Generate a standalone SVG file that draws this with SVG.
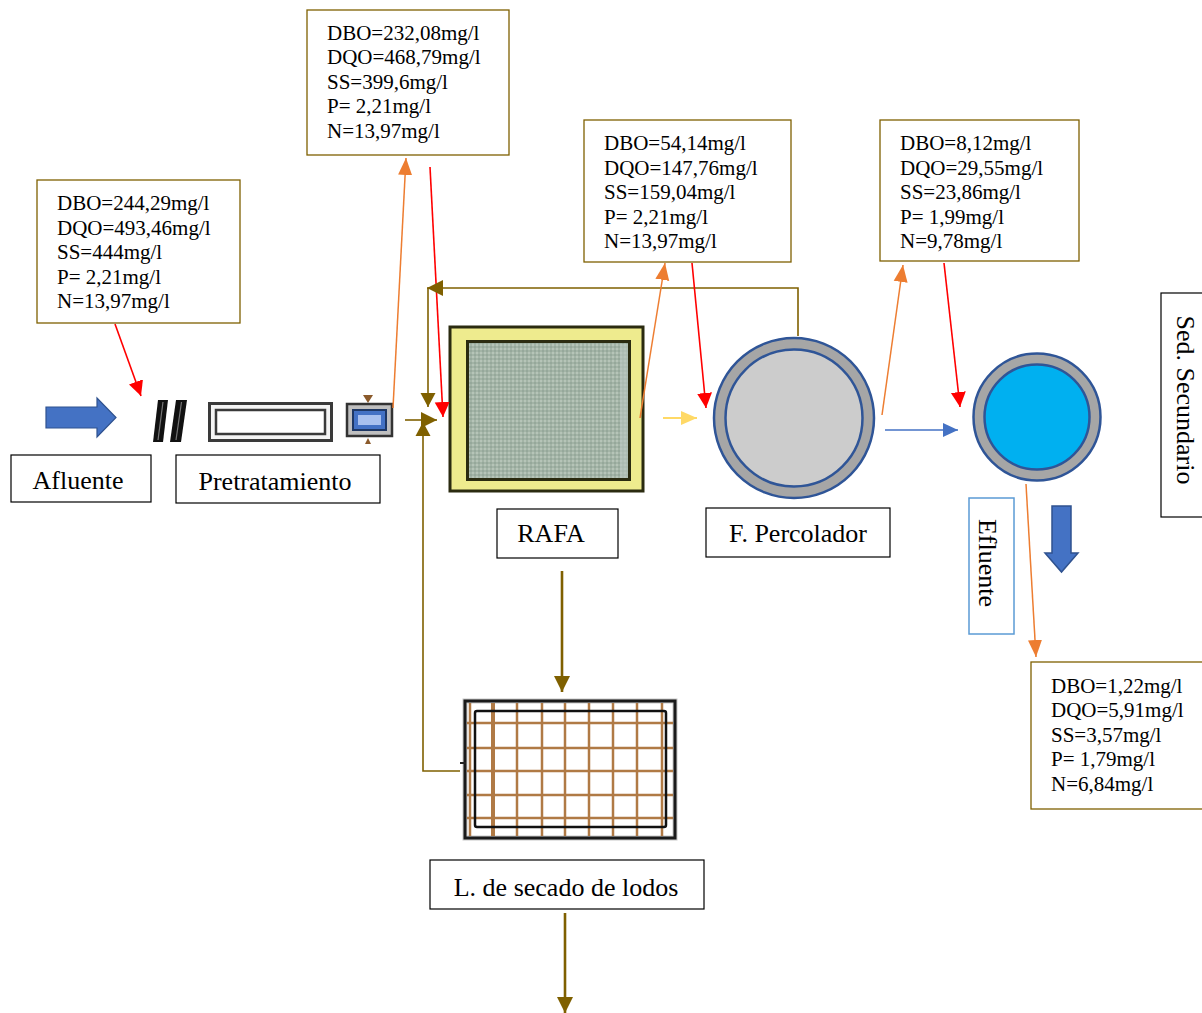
<svg xmlns="http://www.w3.org/2000/svg" width="1202" height="1013" viewBox="0 0 1202 1013">
  <style>
    .data { font-family: "Liberation Serif", "Times New Roman", serif; font-size: 21px; fill: #000; }
    .label { font-family: "Liberation Serif", "Times New Roman", serif; font-size: 26px; fill: #000; text-anchor: middle; }
    .dbox { fill: #fff; stroke: #7f6000; stroke-width: 1.3; }
    .lbox { fill: #fff; stroke: #000; stroke-width: 1.2; }
    .red { stroke: #ff0000; stroke-width: 1.6; fill: none; }
    .orange { stroke: #ed7d31; stroke-width: 1.5; fill: none; }
    .olive { stroke: #7f6000; stroke-width: 1.6; fill: none; }
    .olive-thick { stroke: #7f6000; stroke-width: 2.6; fill: none; }
    .blue { stroke: #4472c4; stroke-width: 1.5; fill: none; }
    .yellow { stroke: #ffd966; stroke-width: 2; fill: none; }
    .ring { fill: #a6a6a6; stroke: #2f5597; stroke-width: 2.5; }
    .core { stroke: #2f5597; stroke-width: 2.5; }
    .grid line { stroke: #b07a45; stroke-width: 2.5; }
  </style>
  <defs>
    <marker id="hRed" markerUnits="userSpaceOnUse" markerWidth="16" markerHeight="16" refX="15" refY="8" orient="auto">
      <path d="M0,0.5 L15,8 L0,15.5 z" fill="#ff0000"/>
    </marker>
    <marker id="hOrange" markerUnits="userSpaceOnUse" markerWidth="18" markerHeight="16" refX="17" refY="8" orient="auto">
      <path d="M0,1 L17,8 L0,15 z" fill="#ed7d31"/>
    </marker>
    <marker id="hOlive" markerUnits="userSpaceOnUse" markerWidth="17" markerHeight="17" refX="16" refY="8.5" orient="auto">
      <path d="M0,0.5 L16,8.5 L0,16.5 z" fill="#7f6000"/>
    </marker>
    <marker id="hOliveS" markerUnits="userSpaceOnUse" markerWidth="15" markerHeight="16" refX="14" refY="8" orient="auto">
      <path d="M0,0.5 L14,8 L0,15.5 z" fill="#7f6000"/>
    </marker>
    <marker id="hBlue" markerUnits="userSpaceOnUse" markerWidth="16" markerHeight="16" refX="15" refY="8" orient="auto">
      <path d="M0,1 L15,8 L0,15 z" fill="#4472c4"/>
    </marker>
    <marker id="hYellow" markerUnits="userSpaceOnUse" markerWidth="17" markerHeight="16" refX="16" refY="8" orient="auto">
      <path d="M0,1 L16,8 L0,15 z" fill="#ffd966"/>
    </marker>
    <pattern id="mesh" width="4" height="4" patternUnits="userSpaceOnUse">
      <rect width="4" height="4" fill="#a3b4a6"/>
      <rect width="2" height="2" fill="#b6c4b8"/>
      <rect x="2" y="2" width="2" height="2" fill="#96a89b"/>
    </pattern>
  </defs>

  <rect width="1202" height="1013" fill="#fff"/>

  <!-- Water quality boxes -->
  <g id="q-afluente">
    <rect class="dbox" x="37" y="180" width="203" height="143"/>
    <text class="data" x="57" y="210">DBO=244,29mg/l</text>
    <text class="data" x="57" y="235">DQO=493,46mg/l</text>
    <text class="data" x="57" y="259">SS=444mg/l</text>
    <text class="data" x="57" y="284">P= 2,21mg/l</text>
    <text class="data" x="57" y="308">N=13,97mg/l</text>
  </g>
  <g id="q-pretratamiento">
    <rect class="dbox" x="307" y="10" width="202" height="145"/>
    <text class="data" x="327" y="40">DBO=232,08mg/l</text>
    <text class="data" x="327" y="64">DQO=468,79mg/l</text>
    <text class="data" x="327" y="89">SS=399,6mg/l</text>
    <text class="data" x="327" y="113">P= 2,21mg/l</text>
    <text class="data" x="327" y="138">N=13,97mg/l</text>
  </g>
  <g id="q-rafa">
    <rect class="dbox" x="584" y="120" width="207" height="142"/>
    <text class="data" x="604" y="150">DBO=54,14mg/l</text>
    <text class="data" x="604" y="175">DQO=147,76mg/l</text>
    <text class="data" x="604" y="199">SS=159,04mg/l</text>
    <text class="data" x="604" y="224">P= 2,21mg/l</text>
    <text class="data" x="604" y="248">N=13,97mg/l</text>
  </g>
  <g id="q-percolador">
    <rect class="dbox" x="880" y="120" width="199" height="141"/>
    <text class="data" x="900" y="150">DBO=8,12mg/l</text>
    <text class="data" x="900" y="175">DQO=29,55mg/l</text>
    <text class="data" x="900" y="199">SS=23,86mg/l</text>
    <text class="data" x="900" y="224">P= 1,99mg/l</text>
    <text class="data" x="900" y="248">N=9,78mg/l</text>
  </g>
  <g id="q-efluente">
    <rect class="dbox" x="1031" y="662" width="185" height="147"/>
    <text class="data" x="1051" y="693">DBO=1,22mg/l</text>
    <text class="data" x="1051" y="717">DQO=5,91mg/l</text>
    <text class="data" x="1051" y="742">SS=3,57mg/l</text>
    <text class="data" x="1051" y="766">P= 1,79mg/l</text>
    <text class="data" x="1051" y="791">N=6,84mg/l</text>
  </g>

  <!-- Influent arrow -->
  <g id="afluente-arrow">
    <path d="M46,407 L97,407 L97,398 L116,417.5 L97,437 L97,428 L46,428 z" fill="#4472c4" stroke="#2f528f" stroke-width="1.2"/>
  </g>

  <!-- Pretreatment: screen bars, grit channel, small unit -->
  <g id="rejas">
    <polygon points="158,400 168,400 163,442 153,442" fill="#111"/>
    <line x1="163" y1="402" x2="158" y2="440" stroke="#777" stroke-width="1.2"/>
    <polygon points="176,400 187,400 181,442 170,442" fill="#111"/>
    <line x1="181.5" y1="402" x2="176" y2="440" stroke="#777" stroke-width="1.2"/>
  </g>
  <g id="desarenador">
    <rect x="209.5" y="403.5" width="122" height="37" fill="#f4f4f4" stroke="#3a3a3a" stroke-width="3"/>
    <rect x="216" y="410" width="109" height="24" fill="#fff" stroke="#3a3a3a" stroke-width="2.5"/>
  </g>
  <g id="unidad-medicion">
    <polygon points="363,395 373,395 368,403" fill="#8b5a2b"/>
    <polygon points="365,444 371,444 368,438" fill="#8b5a2b"/>
    <rect x="347" y="404" width="45" height="32" fill="#bfbfbf" stroke="#333" stroke-width="2.5"/>
    <rect x="353" y="410" width="33" height="20" fill="#4472c4" stroke="#1f3864" stroke-width="2"/>
    <rect x="358" y="415" width="23" height="10" fill="#a9c1ee"/>
  </g>

  <!-- RAFA reactor -->
  <g id="rafa">
    <rect x="450" y="327" width="193" height="164" fill="#eeeb8e" stroke="#2b2b10" stroke-width="3"/>
    <rect x="467.5" y="341.5" width="162" height="138" fill="url(#mesh)" stroke="#2b2b10" stroke-width="3"/>
    <rect x="620" y="344" width="8" height="134" fill="#b9c6bf" opacity="0.6"/>
  </g>

  <!-- Trickling filter -->
  <g id="percolador">
    <circle class="ring" cx="794" cy="418" r="80"/>
    <circle class="core" cx="794" cy="418" r="68.5" fill="#cccccc"/>
  </g>

  <!-- Secondary settler -->
  <g id="sedimentador">
    <circle class="ring" cx="1037" cy="417" r="63.5"/>
    <circle class="core" cx="1037" cy="417" r="52.5" fill="#00b0f0"/>
  </g>

  <!-- Effluent arrow -->
  <g id="efluente-arrow">
    <path d="M1052,506 L1071,506 L1071,553 L1078,553 L1061.5,572 L1045,553 L1052,553 z" fill="#4472c4" stroke="#2f528f" stroke-width="1.5"/>
  </g>

  <!-- Sludge drying bed -->
  <g id="lecho-secado">
    <rect x="465" y="701" width="210" height="137" fill="#fff" stroke="#c8c8c8" stroke-width="5"/>
    <g class="grid">
      <line x1="470" y1="703" x2="470" y2="836"/>
      <line x1="493" y1="703" x2="493" y2="836" style="stroke-width:4"/>
      <line x1="517" y1="703" x2="517" y2="836"/>
      <line x1="542" y1="703" x2="542" y2="836"/>
      <line x1="565" y1="703" x2="565" y2="836"/>
      <line x1="589" y1="703" x2="589" y2="836"/>
      <line x1="613" y1="703" x2="613" y2="836"/>
      <line x1="637" y1="703" x2="637" y2="836"/>
      <line x1="662" y1="703" x2="662" y2="836"/>
      <line x1="467" y1="723" x2="673" y2="723"/>
      <line x1="467" y1="748" x2="673" y2="748"/>
      <line x1="467" y1="771" x2="673" y2="771"/>
      <line x1="467" y1="795" x2="673" y2="795"/>
      <line x1="467" y1="818" x2="673" y2="818"/>
    </g>
    <rect x="465" y="701" width="210" height="137" fill="none" stroke="#1a1a1a" stroke-width="3"/>
    <rect x="475" y="711" width="191" height="116" rx="2" fill="none" stroke="#111" stroke-width="2.5"/>
    <line x1="460" y1="763" x2="466" y2="763" stroke="#222" stroke-width="2"/>
  </g>

  <!-- Connectors -->
  <g id="connectors">
    <line class="red" x1="115" y1="324" x2="141" y2="396" marker-end="url(#hRed)"/>
    <line class="orange" x1="393" y1="408" x2="406" y2="158" marker-end="url(#hOrange)"/>
    <line class="red" x1="430" y1="167" x2="443" y2="417" marker-end="url(#hRed)"/>
    <line class="olive" x1="405" y1="420" x2="437" y2="420" marker-end="url(#hOlive)"/>
    <polyline class="olive" points="798,336 798,288 427,288" marker-end="url(#hOlive)"/>
    <line class="olive" x1="428" y1="288" x2="428" y2="407" marker-end="url(#hOliveS)"/>
    <polyline class="olive" points="460,771 423,771 423,422" marker-end="url(#hOliveS)"/>
    <line class="orange" x1="640" y1="418" x2="665" y2="263" marker-end="url(#hOrange)"/>
    <line class="yellow" x1="663" y1="418" x2="697" y2="418" marker-end="url(#hYellow)"/>
    <line class="red" x1="692" y1="263" x2="706" y2="408" marker-end="url(#hRed)"/>
    <line class="orange" x1="882" y1="415" x2="903" y2="265" marker-end="url(#hOrange)"/>
    <line class="blue" x1="885" y1="430" x2="958" y2="430" marker-end="url(#hBlue)"/>
    <line class="red" x1="944" y1="263" x2="960" y2="407" marker-end="url(#hRed)"/>
    <line class="orange" x1="1026" y1="484" x2="1036" y2="657" marker-end="url(#hOrange)"/>
    <line class="olive-thick" x1="562" y1="571" x2="562" y2="692" marker-end="url(#hOlive)"/>
    <line class="olive-thick" x1="565" y1="913" x2="565" y2="1013" marker-end="url(#hOlive)"/>
  </g>

  <!-- Stage labels -->
  <g id="lbl-afluente">
    <rect class="lbox" x="11" y="455" width="140" height="47"/>
    <text class="label" x="78" y="489">Afluente</text>
  </g>
  <g id="lbl-pretratamiento">
    <rect class="lbox" x="176" y="455" width="204" height="48"/>
    <text class="label" x="275" y="490">Pretratamiento</text>
  </g>
  <g id="lbl-rafa">
    <rect class="lbox" x="497" y="509" width="121" height="49"/>
    <text class="label" x="551" y="542">RAFA</text>
  </g>
  <g id="lbl-percolador">
    <rect class="lbox" x="706" y="508" width="184" height="49"/>
    <text class="label" x="798" y="542">F. Percolador</text>
  </g>
  <g id="lbl-lecho">
    <rect class="lbox" x="430" y="860" width="274" height="49"/>
    <text class="label" x="566" y="896">L. de secado de lodos</text>
  </g>
  <g id="lbl-sedimentador">
    <rect class="lbox" x="1161" y="293" width="60" height="224"/>
    <text class="label" transform="translate(1185,400) rotate(90)" x="0" y="0" dominant-baseline="central">Sed. Secundario</text>
  </g>
  <g id="lbl-efluente">
    <rect x="969" y="498" width="45" height="136" fill="#fff" stroke="#5b9bd5" stroke-width="1.5"/>
    <text class="label" transform="translate(987,563) rotate(90)" x="0" y="0" dominant-baseline="central">Efluente</text>
  </g>
</svg>
